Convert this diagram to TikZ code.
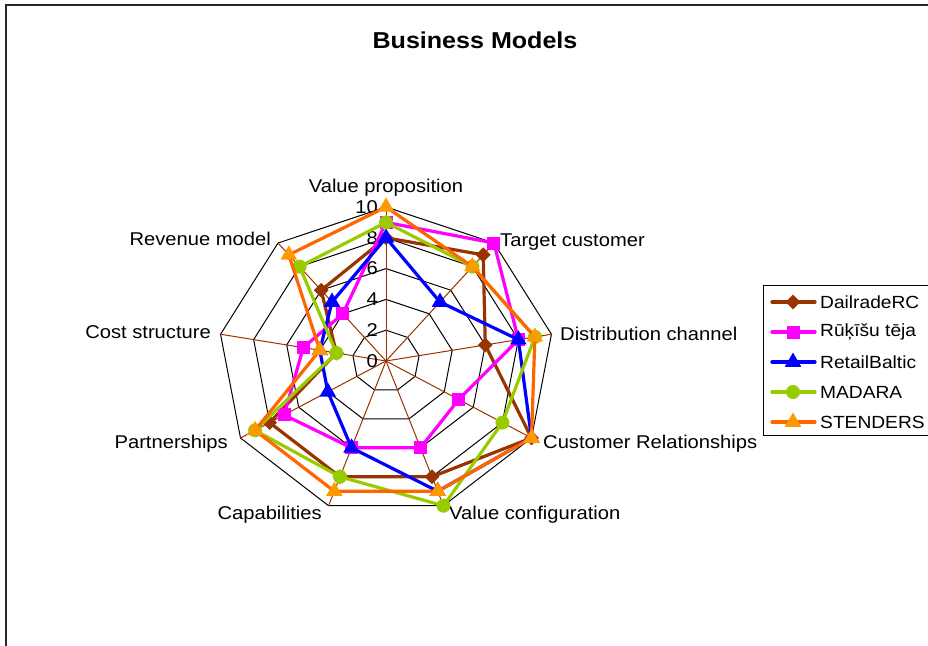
\documentclass[tikz,border=0pt]{standalone}
\usepackage{fontspec}
\setmainfont{Liberation Sans}[FakeStretch=1.09]
\usetikzlibrary{shapes.geometric}
\definecolor{dailrade}{HTML}{993300}
\definecolor{rukisu}{HTML}{FF00FF}
\definecolor{retail}{HTML}{0000FF}
\definecolor{madara}{HTML}{99CC00}
\definecolor{stenders}{HTML}{FF6600}
\definecolor{stendmark}{HTML}{FF9900}
\tikzset{
	dmark/.style={diamond, fill=#1, inner sep=0pt, minimum size=15pt},
	smark/.style={rectangle, fill=#1, inner sep=0pt, minimum size=13pt},
	tmark/.style={regular polygon, regular polygon sides=3, fill=#1, inner sep=0pt, minimum size=19pt},
	cmark/.style={circle, fill=#1, inner sep=0pt, minimum size=14pt},
	serie/.style={line width=3.2pt, line join=round},
	gridline/.style={black, line width=1pt},
	spoke/.style={dailrade, line width=1pt},
}
% one series: name, line colour, marker, values, legend y, legend text
\newcommand\radarline[6]{%
	\foreach \v [count=\k from 0] in {#4}
		\coordinate (#1-\k) at ({90-40*\k}:\v);
	\draw[serie, #2] (#1-0) \foreach \k in {1,...,8}{ -- (#1-\k)} -- cycle;
	\foreach \k in {0,...,8}
		\node[#3] (#1-m\k) at (#1-\k) {};
	\coordinate (#1-la) at (386pt,#5);
	\coordinate (#1-lb) at (429pt,#5);
	\draw[serie, #2] (#1-la) -- (#1-lb);
	\node[#3] (#1-lm) at (407pt,#5) {};
	\node[anchor=west, inner sep=0pt, font=\fontsize{17.6pt}{21pt}\selectfont] (#1-lt) at (434pt,#5) {#6};
}
\begin{document}
\begin{tikzpicture}[x=16.8pt, y=15.4pt, font=\fontsize{18.5pt}{22pt}\selectfont, line cap=round]
	\useasboundingbox (-386pt,-284pt) rectangle (542pt,361pt);
	\clip (-386pt,-284pt) rectangle (542pt,361pt);
	\fill[white] (-386pt,-284pt) rectangle (542pt,361pt);
	\draw[line width=1.6pt, black!85] (-380pt,-320pt) rectangle (580pt,356pt);
	\node[font=\fontsize{23pt}{27pt}\selectfont\bfseries, anchor=base] (title) at (89pt,312pt) {Business Models};

	% grid
	\coordinate (o) at (0,0);
	\foreach \r in {2,4,...,10}
		\draw[gridline] (90:\r) \foreach \k in {1,...,8}{ -- ({90-40*\k}:\r)} -- cycle;
	\foreach \k in {0,...,8}
		\draw[spoke] (o) -- ({90-40*\k}:10);
	\foreach \r in {0,2,...,10}
		\node[anchor=east, inner sep=0pt, xshift=-8pt] (tick\r) at (0,\r) {\r};

	% axis labels
	\node[anchor=base] (vp) at (0pt,168pt) {Value proposition};
	\node[anchor=base west, inner sep=0pt] (tc) at (114pt,114pt) {Target customer};
	\node[anchor=base west, inner sep=0pt] (dc) at (174pt,21pt) {Distribution channel};
	\node[anchor=base west, inner sep=0pt] (cr) at (157pt,-87pt) {Customer Relationships};
	\node[anchor=base west, inner sep=0pt] (vc) at (63pt,-158pt) {Value configuration};
	\node[anchor=base east, inner sep=0pt] (cap) at (-64pt,-158pt) {Capabilities};
	\node[anchor=base east, inner sep=0pt] (pa) at (-158pt,-87pt) {Partnerships};
	\node[anchor=base east, inner sep=0pt] (cs) at (-175pt,23pt) {Cost structure};
	\node[anchor=base east, inner sep=0pt] (rm) at (-115pt,115pt) {Revenue model};

	% legend
	\draw[black, line width=0.8pt] (377pt,76pt) rectangle (600pt,-74pt);

	\radarline{dr}{dailrade}{dmark=dailrade}{8,9,6,10,8,8,8,3,6}{59pt}{DailradeRC}
	\radarline{rt}{rukisu}{smark=rukisu}{9,10,8,5,6,6,7,5,4}{29pt}{Rūķīšu tēja}
	\radarline{rb}{retail}{tmark=retail}{8,5,8,10,9,6,4,4,5}{-1pt}{RetailBaltic}
	\radarline{md}{madara}{cmark=madara}{9,8,9,8,10,8,9,3,8}{-31pt}{MADARA}
	\radarline{st}{stenders}{tmark=stendmark}{10,8,9,10,9,9,9,4,9}{-61pt}{STENDERS}
\end{tikzpicture}
\end{document}
